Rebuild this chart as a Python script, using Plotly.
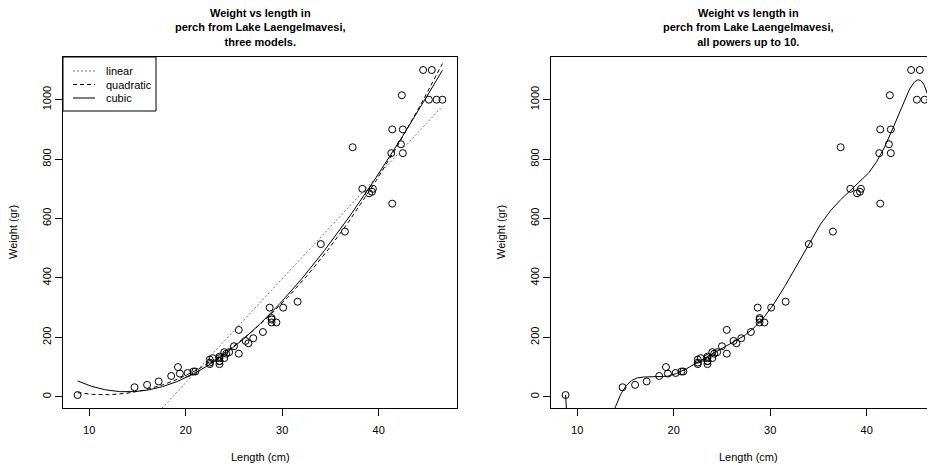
import numpy as np
import plotly.graph_objects as go

# Perch from Lake Laengelmavesi: length (cm) and weight (gr)
length_cm = [8.8, 14.7, 16.0, 17.2, 18.5, 19.2, 19.4, 20.2, 20.8, 21.0,
             22.5, 22.5, 22.5, 22.8, 23.5, 23.5, 23.5, 23.5, 23.5, 24.0,
             24.0, 24.2, 24.5, 25.0, 25.5, 25.5, 26.2, 26.5, 27.0, 28.0,
             28.7, 28.9, 28.9, 28.9, 29.4, 30.1, 31.6, 34.0, 36.5, 37.3,
             39.0, 38.3, 39.4, 39.3, 41.4, 41.4, 41.3, 42.3, 42.5, 42.4,
             42.5, 44.6, 45.2, 45.5, 46.0, 46.6]
weight_gr = [5.9, 32, 40, 51.5, 70, 100, 78, 80, 85, 85,
             110, 115, 125, 130, 120, 120, 130, 135, 110, 130,
             150, 145, 150, 170, 225, 145, 188, 180, 197, 218,
             300, 260, 265, 250, 250, 300, 320, 514, 556, 840,
             685, 700, 700, 690, 900, 650, 820, 850, 900, 1015,
             820, 1100, 1000, 1100, 1000, 1000]

model_names = ["linear", "quadratic", "cubic"]
model_degrees = [1, 2, 3]
model_dashes = ["2px,2px", "4px,3px", "solid"]
model_colors = ["#777777", "black", "black"]
y_ticks = [0, 200, 400, 600, 800, 1000]
x_ticks = [10, 20, 30, 40]

x = np.array(length_cm)
y = np.array(weight_gr)
grid = np.linspace(x.min(), x.max(), 600)

# R style axis limits (4% extension)
xr = [x.min() - 0.04 * np.ptp(x), x.max() + 0.04 * np.ptp(x)]
yr = [y.min() - 0.04 * np.ptp(y), y.max() + 0.04 * np.ptp(y)]

# page body has an 8px margin, so work in shifted pixel coordinates
OFF = 8
W, H = 935 - OFF, 468 - OFF
ml, mt, mb = 63 - OFF, 57 - OFF, H - (408 - OFF)
pw = W - ml
ph = H - mt - mb
panel_px = 394
right_left = 551 - OFF
d1 = [0, panel_px / pw]
d2 = [(right_left - ml) / pw, 1]
xr2 = [xr[0], xr[0] + (W - right_left) / panel_px * (xr[1] - xr[0])]


def px_x(p):
    return (p - OFF - ml) / pw


def px_y(p):
    return (H - mb - (p - OFF)) / ph


font = "Liberation Sans, Arial, sans-serif"

fig = go.Figure()

fig.add_trace(go.Scatter(x=length_cm, y=weight_gr, mode="markers", showlegend=False,
                         marker=dict(symbol="circle-open", size=7, color="black",
                                     line=dict(width=1)),
                         xaxis="x", yaxis="y"))
for name, deg, dash, col in zip(model_names, model_degrees, model_dashes, model_colors):
    p = np.polynomial.Polynomial.fit(x, y, deg)
    fig.add_trace(go.Scatter(x=grid, y=p(grid), mode="lines", name=name, showlegend=False,
                             line=dict(color=col, dash=dash, width=1),
                             xaxis="x", yaxis="y"))

p10 = np.polynomial.Polynomial.fit(x, y, 10)
fig.add_trace(go.Scatter(x=length_cm, y=weight_gr, mode="markers", showlegend=False,
                         marker=dict(symbol="circle-open", size=7, color="black",
                                     line=dict(width=1)),
                         xaxis="x2", yaxis="y2"))
fig.add_trace(go.Scatter(x=grid, y=p10(grid), mode="lines", showlegend=False,
                         line=dict(color="black", width=1),
                         xaxis="x2", yaxis="y2"))

ax = dict(showline=True, linecolor="black", linewidth=1, ticks="outside",
          ticklen=7, tickcolor="black", showgrid=False, zeroline=False,
          tickfont=dict(family=font, size=11, color="black"))

fig.update_layout(
    width=W, height=H,
    margin=dict(l=ml, r=0, t=mt, b=mb),
    plot_bgcolor="white", paper_bgcolor="white",
    font=dict(family=font, size=11, color="black"),
    showlegend=False,
    xaxis=dict(ax, domain=d1, range=xr, tickvals=x_ticks, mirror=True, anchor="y",
               ticklabelstandoff=5),
    yaxis=dict(ax, domain=[0, 1], range=yr, tickvals=y_ticks, tickangle=-90, mirror=True,
               anchor="x"),
    xaxis2=dict(ax, domain=d2, range=xr2, tickvals=x_ticks, mirror=True, anchor="y2",
                ticklabelstandoff=5),
    yaxis2=dict(ax, domain=[0, 1], range=yr, tickvals=y_ticks, tickangle=-90, anchor="x2"),
)

# hand-drawn legend box like R's legend()
fig.add_shape(type="rect", xref="paper", yref="paper",
              x0=px_x(63), x1=px_x(156), y0=px_y(111), y1=px_y(57),
              line=dict(color="black", width=1), fillcolor="white", layer="above")
rows = [71, 84.5, 98]
for name, dash, col, ry in zip(model_names, model_dashes, model_colors, rows):
    fig.add_shape(type="line", xref="paper", yref="paper",
                  x0=px_x(73), x1=px_x(95), y0=px_y(ry), y1=px_y(ry),
                  line=dict(color=col, dash=dash, width=1), layer="above")
    fig.add_annotation(text=name, xref="paper", yref="paper", x=px_x(104), y=px_y(ry),
                       xanchor="left", yanchor="middle", showarrow=False, font=dict(size=11))

titles = ["three models.", "all powers up to 10."]
centers = [260, 748]
for t, c in zip(titles, centers):
    fig.add_annotation(text="<b>Weight vs length in<br>perch from Lake Laengelmavesi,<br>" + t + "</b>",
                       xref="paper", yref="paper", x=px_x(c), y=px_y(5),
                       xanchor="center", yanchor="top", showarrow=False,
                       font=dict(size=11), align="center")
    fig.add_annotation(text="Length (cm)", xref="paper", yref="paper",
                       x=px_x(c), y=px_y(457),
                       xanchor="center", yanchor="middle", showarrow=False, font=dict(size=11))
    fig.add_annotation(text="Weight (gr)", xref="paper", yref="paper",
                       x=px_x(c - 247), y=px_y(232), textangle=-90,
                       xanchor="center", yanchor="middle", showarrow=False, font=dict(size=11))

fig.write_html("out.html")
